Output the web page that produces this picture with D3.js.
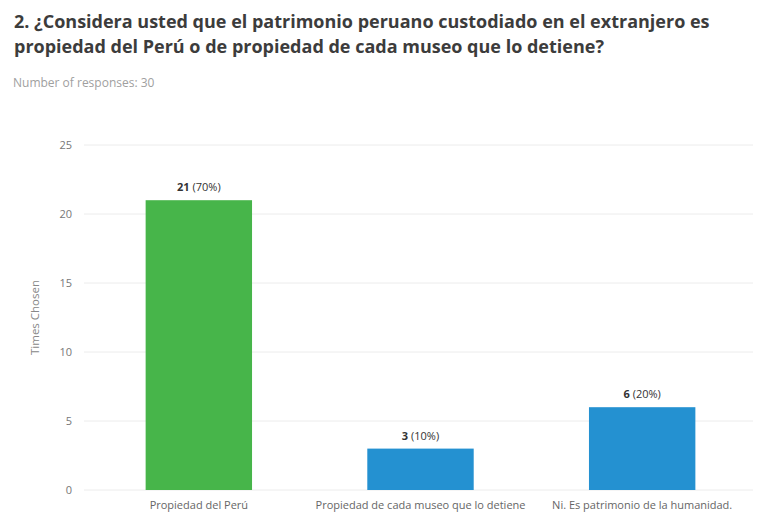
<!DOCTYPE html>
<html>
<head>
<meta charset="utf-8">
<script src="https://cdn.jsdelivr.net/npm/d3@7"></script>
<style>
  body { margin: 0; background: #fff; }
  svg { display: block; font-family: "Open Sans", sans-serif; }
</style>
</head>
<body>
<svg id="chart" width="760" height="516"></svg>
<script>
// Survey question 2: answer counts
const categories = [
  "Propiedad del Perú",
  "Propiedad de cada museo que lo detiene",
  "Ni. Es patrimonio de la humanidad."
];
const counts = [21, 3, 6];
const percents = ["70%", "10%", "20%"];
const barColors = ["#47b54a", "#2491d1", "#2491d1"];
const yTicks = [0, 5, 10, 15, 20, 25];
const titleLines = [
  "2. ¿Considera usted que el patrimonio peruano custodiado en el extranjero es",
  "propiedad del Perú o de propiedad de cada museo que lo detiene?"
];
const subtitle = "Number of responses: 30";
const yLabel = "Times Chosen";

const svg = d3.select("#chart");
const margin = { left: 88, right: 7, top: 145, bottom: 26 };
const W = 760, H = 516;

const x = d3.scaleBand()
  .domain(categories)
  .range([margin.left, W - margin.right])
  .paddingInner(0.52)
  .paddingOuter(0.26);

const y = d3.scaleLinear()
  .domain([0, 25])
  .range([H - margin.bottom, margin.top]);

// Title and subtitle
svg.selectAll("text.title")
  .data(titleLines)
  .join("text")
  .attr("class", "title")
  .attr("x", 14)
  .attr("y", (d, i) => 28 + i * 25)
  .attr("font-size", 18)
  .attr("font-weight", 700)
  .attr("fill", "#3c3c3c")
  .text(d => d);

svg.append("text")
  .attr("x", 13)
  .attr("y", 87)
  .attr("font-size", 12)
  .attr("fill", "#a0a0a0")
  .text(subtitle);

// Horizontal gridlines
svg.append("g")
  .selectAll("line")
  .data(yTicks)
  .join("line")
  .attr("x1", margin.left - 4)
  .attr("x2", W - margin.right)
  .attr("y1", d => y(d))
  .attr("y2", d => y(d))
  .attr("stroke", "#ececec")
  .attr("stroke-width", 1);

// Y axis tick labels
const yAxis = d3.axisLeft(y).tickValues(yTicks).tickSize(0).tickPadding(0);
const gy = svg.append("g")
  .attr("transform", `translate(${margin.left - 16},0)`)
  .call(yAxis);
gy.select(".domain").remove();
gy.selectAll("text")
  .attr("font-family", "Open Sans, sans-serif")
  .attr("font-size", 11)
  .attr("fill", "#777");

// Y axis title
svg.append("text")
  .attr("transform", `translate(39,${(y(0) + y(25)) / 2}) rotate(-90)`)
  .attr("text-anchor", "middle")
  .attr("font-size", 11.5)
  .attr("fill", "#888")
  .text(yLabel);

// Bars
const data = categories.map((c, i) => ({ c, v: counts[i], p: percents[i], col: barColors[i] }));
svg.append("g")
  .selectAll("rect")
  .data(data)
  .join("rect")
  .attr("x", d => x(d.c))
  .attr("y", d => y(d.v))
  .attr("width", x.bandwidth())
  .attr("height", d => y(0) - y(d.v))
  .attr("fill", d => d.col);

// Value labels
const vl = svg.append("g")
  .selectAll("text")
  .data(data)
  .join("text")
  .attr("x", d => x(d.c) + x.bandwidth() / 2)
  .attr("y", d => y(d.v) - 9)
  .attr("text-anchor", "middle")
  .attr("font-size", 11)
  .attr("fill", "#333");
vl.append("tspan").attr("font-weight", 700).text(d => d.v);
vl.append("tspan").text(d => ` (${d.p})`);

// X axis category labels
const xAxis = d3.axisBottom(x).tickSize(0).tickPadding(0);
const gx = svg.append("g")
  .attr("transform", `translate(0,${y(0) + 19})`)
  .call(xAxis);
gx.select(".domain").remove();
gx.selectAll("text")
  .attr("font-family", "Open Sans, sans-serif")
  .attr("font-size", 11)
  .attr("fill", "#666")
  .attr("dy", 0);
</script>
</body>
</html>
